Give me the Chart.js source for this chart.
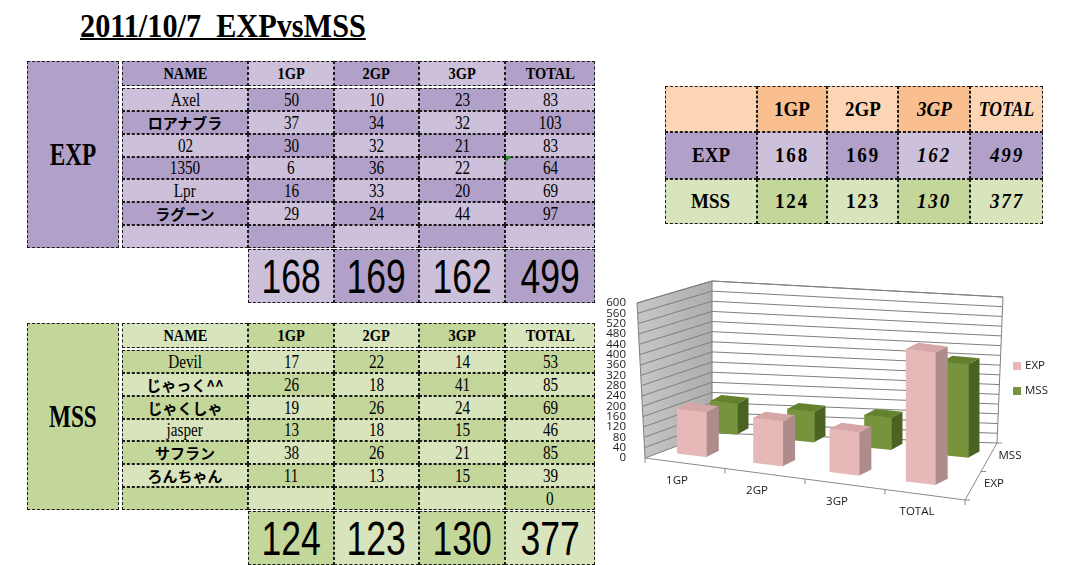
<!DOCTYPE html>
<html>
<head>
<meta charset="utf-8">
<title>2011/10/7 EXPvsMSS</title>
<script src="https://cdn.jsdelivr.net/npm/chart.js@4.4.0/dist/chart.umd.min.js"></script>
<style>
  body { margin: 0; width: 1065px; height: 565px; overflow: hidden; position: relative; background: #fff; font-family: "Liberation Serif", serif; }
  .c { position: absolute; box-sizing: border-box; border: 1px dashed #1a1a1a; display: flex; align-items: center; justify-content: center; color: #000; white-space: nowrap; }
  .c span { display: inline-block; }
  #title { position: absolute; left: 80px; top: 7px; font: bold 34px "Liberation Serif", serif; text-decoration: underline; text-decoration-thickness: 2px; transform: scaleX(0.89); transform-origin: left top; white-space: pre; color: #000; }
  #chartBox { position: absolute; left: 595px; top: 275px; width: 470px; height: 260px; }
  .flag { position: absolute; left: 506px; top: 156px; width: 0; height: 0; border-top: 6px solid #2a8a2a; border-right: 6px solid transparent; }
</style>
</head>
<body>
<div id="title">2011/10/7  EXPvsMSS</div>
<div id="chartBox"><canvas id="gpChart"></canvas></div>

<script>
// ── Data read from the sheet ──
const gpLabels = ['1GP', '2GP', '3GP', 'TOTAL'];
const seriesNames = ['EXP', 'MSS'];

const expNames = ['Axel', 'ロアナブラ', '02', '1350', 'Lpr', 'ラグーン', ''];
const expGP1 = [50, 37, 30, 6, 16, 29, null];
const expGP2 = [10, 34, 32, 36, 33, 24, null];
const expGP3 = [23, 32, 21, 22, 20, 44, null];
const expRowTotal = [83, 103, 83, 64, 69, 97, null];

const mssNames = ['Devil', 'じゃっく^^', 'じゃくしゃ', 'jasper', 'サフラン', 'ろんちゃん', ''];
const mssGP1 = [17, 26, 19, 13, 38, 11, null];
const mssGP2 = [22, 18, 26, 18, 26, 13, null];
const mssGP3 = [14, 41, 24, 15, 21, 15, null];
const mssRowTotal = [53, 85, 69, 46, 85, 39, 0];

const expSeries = [168, 169, 162, 499];
const mssSeries = [124, 123, 130, 377];

const yMax = 600;
const yStep = 40;

// ── Helper: one spreadsheet cell ──
function cell(x, y, w, h, text, bg, font, sx) {
    const d = document.createElement('div');
    d.className = 'c';
    d.style.left = x + 'px';
    d.style.top = y + 'px';
    d.style.width = w + 'px';
    d.style.height = h + 'px';
    d.style.background = bg;
    d.style.font = font;
    if (text !== '' && text != null) {
        const s = document.createElement('span');
        s.textContent = text;
        if (sx && sx !== 1) s.style.transform = `scaleX(${sx})`;
        d.appendChild(s);
    }
    document.body.appendChild(d);
    return d;
}

// ── Team score tables ──
function buildTeam(t) {
    const colX = [122, 248, 334, 419, 505, 595];
    const rowH = 160 / 7;
    const pick = (r, c) => (((r + c) % 2 === 0) === t.evenDark) ? t.dark : t.light;

    cell(27, t.top, 92, 187, t.label, t.labelBg, 'bold 31px "Liberation Serif"', 0.75);

    ['NAME'].concat(gpLabels).forEach((h, c) => {
        cell(colX[c], t.top, colX[c + 1] - colX[c], 25, h, pick(0, c), 'bold 16px "Liberation Serif"', 0.9);
    });

    t.names.forEach((name, i) => {
        const y = Math.round(t.top + 27 + i * rowH);
        const h = Math.round(t.top + 27 + (i + 1) * rowH) - y;
        const vals = [name, t.g1[i], t.g2[i], t.g3[i], t.tot[i]];
        vals.forEach((v, c) => {
            let font = '19px "Liberation Serif"', sx = 0.8;
            if (c === 0 && /[^\x00-\x7f]/.test(v)) { font = 'bold 15px "Noto Sans CJK JP"'; sx = 1; }
            cell(colX[c], y, colX[c + 1] - colX[c], h, v == null ? '' : String(v), pick(i + 1, c), font, sx);
        });
    });

    t.sums.forEach((v, k) => {
        const c = k + 1;
        cell(colX[c], t.top + 188, colX[c + 1] - colX[c], 54, String(v), pick(8, c), '48px "Liberation Sans"', 0.74);
    });
}

buildTeam({ top: 61, label: 'EXP', labelBg: '#B1A0C7', dark: '#B1A0C7', light: '#CCC0DA', evenDark: true,
    names: expNames, g1: expGP1, g2: expGP2, g3: expGP3, tot: expRowTotal, sums: expSeries });
buildTeam({ top: 323, label: 'MSS', labelBg: '#C4D79B', dark: '#C4D79B', light: '#D8E4BC', evenDark: false,
    names: mssNames, g1: mssGP1, g2: mssGP2, g3: mssGP3, tot: mssRowTotal, sums: mssSeries });

// little green error marker from the sheet
const flag = document.createElement('div');
flag.className = 'flag';
document.body.appendChild(flag);

// ── Summary table (top right) ──
(function buildSummary() {
    const xs = [665, 757, 827, 898, 970, 1043];
    const ys = [86, 132, 179, 224];
    const rows = [[''].concat(gpLabels), [seriesNames[0]].concat(expSeries), [seriesNames[1]].concat(mssSeries)];
    const bgs = [
        ['#FCD5B4', '#FABF8F', '#FCD5B4', '#FABF8F', '#FCD5B4'],
        ['#B1A0C7', '#CCC0DA', '#B1A0C7', '#CCC0DA', '#B1A0C7'],
        ['#D8E4BC', '#C4D79B', '#D8E4BC', '#C4D79B', '#D8E4BC']
    ];
    rows.forEach((row, r) => {
        row.forEach((v, c) => {
            const italic = c >= 3 ? 'italic ' : '';
            const d = cell(xs[c], ys[r], xs[c + 1] - xs[c], ys[r + 1] - ys[r], String(v), bgs[r][c],
                italic + 'bold 20px "Liberation Serif"', c === 4 && r === 0 ? 0.88 : 0.95);
            if (r > 0 && c > 0) d.style.letterSpacing = '2px';
        });
    });
})();

// ── 3D look of the column chart ──
// each series is drawn on its own depth plane (canvas px)
const plane3d = [
    { ox: 97, oy: 180, stepX: 76.3, stepY: 9.3, ppu: 0.265, depth: [12, -6], top: '#D6A7A6', side: '#AE8C8B' },
    { ox: 129, oy: 158, stepX: 77, stepY: 7.7, ppu: 0.247, depth: [11, -6], top: '#64812D', side: '#4B6322' }
];
const box3d = { frontSlant: 8, frontDrop: 42, backLeft: [117, 158], backLeftH: 152, backRight: [402, 168], backRightH: 146, backRightLean: 6 };

function planeMatrix(chart, pl) {
    const xs = chart.scales.x, ys = chart.scales.y;
    const x0 = xs.getPixelForValue(0), dxc = xs.getPixelForValue(1) - x0;
    const y0 = ys.getPixelForValue(0), dyv = (y0 - ys.getPixelForValue(100)) / 100;
    const a = pl.stepX / dxc, b = pl.stepY / dxc, d = pl.ppu / dyv;
    return { a, b, d, e: pl.ox - x0 * a, f: pl.oy - x0 * b - y0 * d };
}

function poly(ctx, pts, fill) {
    ctx.beginPath();
    pts.forEach((p, i) => i ? ctx.lineTo(p[0], p[1]) : ctx.moveTo(p[0], p[1]));
    ctx.closePath();
    ctx.fillStyle = fill;
    ctx.fill();
}

const depthPlugin = {
    id: 'depth3d',
    beforeDatasetsDraw(chart) {
        const ctx = chart.ctx, ys = chart.scales.y, area = chart.chartArea;
        const F = v => [area.left - box3d.frontSlant * v / yMax, ys.getPixelForValue(v)];
        const B = v => [box3d.backLeft[0], box3d.backLeft[1] - v * box3d.backLeftH / yMax];
        const R = v => [box3d.backRight[0] + box3d.backRightLean * v / yMax, box3d.backRight[1] - v * box3d.backRightH / yMax];
        ctx.save();
        // side wall
        const g = ctx.createLinearGradient(F(0)[0], 0, B(0)[0], 0);
        g.addColorStop(0, '#c4c4c4');
        g.addColorStop(1, '#adadad');
        poly(ctx, [F(0), F(yMax), B(yMax), B(0)], g);
        poly(ctx, [B(0), B(yMax), R(yMax), R(0)], '#ffffff');
        // gridlines from the value axis ticks
        ctx.strokeStyle = '#7f7f7f';
        ctx.lineWidth = 1;
        ys.ticks.forEach(t => {
            const v = t.value;
            ctx.beginPath();
            ctx.moveTo(...F(v));
            ctx.lineTo(...B(v));
            ctx.lineTo(...R(v));
            ctx.stroke();
        });
        ctx.beginPath();
        ctx.moveTo(...F(0)); ctx.lineTo(...F(yMax)); ctx.lineTo(...B(yMax));
        ctx.moveTo(...B(0)); ctx.lineTo(...B(yMax)); ctx.lineTo(...R(yMax)); ctx.lineTo(...R(0));
        ctx.stroke();
        // floor edges + category ticks
        const FR = [area.right, area.bottom + box3d.frontDrop];
        ctx.strokeStyle = '#8a8a8a';
        ctx.beginPath();
        ctx.moveTo(...F(0)); ctx.lineTo(...FR); ctx.lineTo(...R(0));
        for (let k = 0; k <= gpLabels.length; k++) {
            const t = k / gpLabels.length;
            const px = F(0)[0] + t * (FR[0] - F(0)[0]), py = F(0)[1] + t * (FR[1] - F(0)[1]);
            ctx.moveTo(px, py); ctx.lineTo(px, py + 5);
        }
        for (let k = 0; k <= seriesNames.length; k++) {
            const t = k / seriesNames.length;
            const px = FR[0] + t * (R(0)[0] - FR[0]), py = FR[1] + t * (R(0)[1] - FR[1]);
            ctx.moveTo(px, py); ctx.lineTo(px + 5, py);
        }
        ctx.stroke();
        ctx.restore();
    },
    beforeDatasetDraw(chart, args) {
        const m = planeMatrix(chart, plane3d[args.index]);
        chart.ctx.save();
        chart.ctx.transform(m.a, m.b, 0, m.d, m.e, m.f);
    },
    afterDatasetDraw(chart, args) {
        const ctx = chart.ctx;
        ctx.restore();
        const pl = plane3d[args.index];
        const m = planeMatrix(chart, pl);
        const P = (x, y) => [m.a * x + m.e, m.b * x + m.d * y + m.f];
        const [dx, dy] = pl.depth;
        args.meta.data.forEach(bar => {
            const { x, y, base, width } = bar.getProps(['x', 'y', 'base', 'width'], true);
            const tl = P(x - width / 2, y), tr = P(x + width / 2, y), br = P(x + width / 2, base);
            poly(ctx, [tl, tr, [tr[0] + dx, tr[1] + dy], [tl[0] + dx, tl[1] + dy]], pl.top);
            poly(ctx, [tr, br, [br[0] + dx, br[1] + dy], [tr[0] + dx, tr[1] + dy]], pl.side);
        });
    },
    afterDatasetsDraw(chart) {
        const ctx = chart.ctx, xs = chart.scales.x, area = chart.chartArea;
        const FL = [area.left, area.bottom], FR = [area.right, area.bottom + box3d.frontDrop];
        const BR = box3d.backRight;
        ctx.save();
        ctx.font = '11.5px "Open Sans"';
        ctx.fillStyle = '#1a1a1a';
        ctx.textAlign = 'center';
        ctx.textBaseline = 'middle';
        gpLabels.forEach((lab, i) => {
            const t = (xs.getPixelForValue(i) - area.left) / (area.right - area.left);
            ctx.fillText(lab, FL[0] + t * (FR[0] - FL[0]) - 8, FL[1] + t * (FR[1] - FL[1]) + 17);
        });
        seriesNames.forEach((name, i) => {
            const t = (i + 0.5) / seriesNames.length;
            ctx.fillText(name, FR[0] + t * (BR[0] - FR[0]) + 21, FR[1] + t * (BR[1] - FR[1]) - 2);
        });
        // legend
        ctx.textAlign = 'left';
        chart.data.datasets.forEach((ds, i) => {
            const ly = 91 + i * 25;
            ctx.fillStyle = ds.backgroundColor;
            ctx.fillRect(418, ly - 4, 8, 8);
            ctx.fillStyle = '#1a1a1a';
            ctx.fillText(ds.label, 430, ly);
        });
        ctx.restore();
    }
};

new Chart(document.getElementById('gpChart'), {
    type: 'bar',
    data: {
        labels: gpLabels,
        datasets: [
            { label: seriesNames[0], data: expSeries, backgroundColor: '#E6B9B8', barThickness: 31 },
            { label: seriesNames[1], data: mssSeries, backgroundColor: '#77933C', barThickness: 28 }
        ]
    },
    options: {
        responsive: true,
        maintainAspectRatio: false,
        animation: false,
        events: [],
        layout: { padding: { top: 28, right: 100, bottom: 77, left: 0 } },
        datasets: { bar: { grouped: false, clip: false, borderWidth: 0 } },
        plugins: { legend: { display: false }, tooltip: { enabled: false } },
        scales: {
            x: { display: false },
            y: {
                min: 0,
                max: yMax,
                ticks: { stepSize: yStep, autoSkip: false, padding: 19, color: '#1a1a1a', font: { family: "'Open Sans'", size: 11.5 } },
                grid: { display: false, drawTicks: false },
                border: { display: false },
                afterFit: s => { s.width = 50; s.paddingTop = 0; s.paddingBottom = 0; }
            }
        }
    },
    plugins: [depthPlugin]
});
</script>
</body>
</html>
